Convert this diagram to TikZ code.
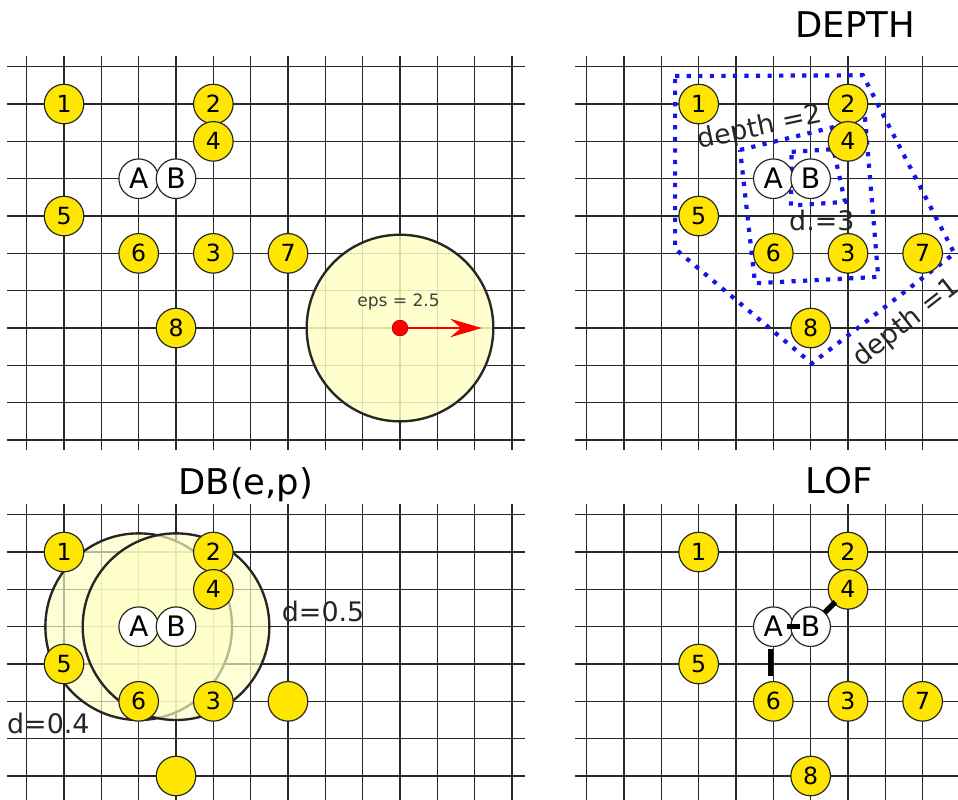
\documentclass[tikz,border=0pt]{standalone}
\usepackage{fontspec}
\setmainfont{DejaVu Sans}
\usetikzlibrary{arrows.meta}

\definecolor{ptyellow}{RGB}{255,230,0}
\definecolor{zonefill}{RGB}{255,255,196}
\definecolor{gridline}{RGB}{40,40,40}
\definecolor{depthblue}{RGB}{20,20,235}

\tikzset{
  gridrule/.style={draw=gridline, line width=1.1pt},
  pt/.style={circle, draw=black!85, line width=0.9pt, fill=ptyellow,
    minimum size=1.06cm, inner sep=0pt, outer sep=0pt,
    font=\fontsize{18}{18}\selectfont},
  query/.style={pt, fill=white, font=\fontsize{21.5}{21.5}\selectfont},
  paneltitle/.style={font=\fontsize{27}{27}\selectfont, anchor=base},
  lbl/.style={font=\fontsize{20.5}{20.5}\selectfont, text=black!85},
  zone/.style={draw=black!85, line width=1.8pt, fill=zonefill, fill opacity=0.85},
  zonepair/.style={draw=black!85, line width=1.8pt, fill=zonefill, fill opacity=0.68},
  depthline/.style={draw=depthblue, line width=3.2pt, dash pattern=on 3.2pt off 5.6pt},
  lofedge/.style={draw=black, line width=4.2pt},
  reddot/.style={circle, fill=red, draw=red!70!black, line width=0.5pt,
    minimum size=0.42cm, inner sep=0pt},
}

% grid block: columns #1..#2, rows #3..#4, left overhang #5
\newcommand\gridblock[5]{%
  \foreach \k in {#1,...,#2} \draw[gridrule] (\k,#3-0.28) -- (\k,#4+0.28);
  \foreach \j in {#3,...,#4} \draw[gridrule] (#1-#5,\j) -- (#2+0.34,\j);
}

% the eight data points and the two query points
\newcommand\pointset[1]{%
  \foreach \n/\x/\y in {1/1/1,2/5/1,4/5/2,5/1/4,6/3/5,3/5/5,7/7/5,8/4/7}
    \node[pt] (#1\n) at (\x,\y) {\n};
  \node[query] (#1A) at (3,3) {A};
  \node[query] (#1B) at (4,3) {B};
}

\begin{document}
\begin{tikzpicture}[x=1cm, y=-1cm]
\useasboundingbox (-0.715,-1.787) rectangle (24.947,19.617);
\clip (-0.715,-1.787) rectangle (24.947,19.617);

% ---------- grids ----------
\gridblock{0}{13}{0}{10}{0.53}
\gridblock{15}{25}{0}{10}{0.31}
\gridblock{0}{13}{12}{19}{0.53}
\gridblock{15}{25}{12}{19}{0.31}
\foreach \k in {0,...,13} \draw[gridrule] (\k,11.74) -- (\k,19.7);
\foreach \k in {15,...,25} \draw[gridrule] (\k,11.74) -- (\k,19.7);

% ---------- top left: eps neighbourhood ----------
\draw[zone] (10,7) circle[radius=2.5cm];
\node[font=\fontsize{13}{13}\selectfont, text=black!75] (epslbl) at (9.96,6.3) {eps = 2.5};
\coordinate (epsend) at (12.19,7);
\node[reddot] (epsc) at (10,7) {};
\draw[red, line width=1.1pt, -{Stealth[length=0.85cm, width=0.5cm, inset=0.3cm]}]
  (epsc) -- (epsend);
\pointset{tl}

% ---------- top right: DEPTH ----------
\node[paneltitle] (tdepth) at (22.19,-0.77) {DEPTH};
\draw[depthline] (17.37,0.25) -- (22.4,0.23) -- (24.85,5.0) -- (21.03,7.95) -- (17.37,4.88) -- cycle;
\draw[depthline] (19.11,2.23) -- (22.46,1.41) -- (22.81,5.63) -- (19.51,5.8) -- cycle;
\draw[depthline] (20.49,2.28) -- (21.61,2.21) -- (21.92,3.62) -- (20.47,3.72) -- cycle;
\begin{scope}[shift={(17,0)}]
  \pointset{tr}
\end{scope}
\node[lbl, rotate=12] (dep2) at (19.64,1.65) {depth =2};
\node[lbl] (dep3) at (21.3,4.12) {d.=3};
\node[lbl, rotate=38] (dep1) at (23.57,6.87) {depth =1};

% ---------- bottom left: DB(e,p) ----------
\node[paneltitle] (tdb) at (5.87,11.46) {DB(e,p)};
\draw[zonepair] (3,15) circle[radius=2.5cm];
\draw[zonepair] (4,15) circle[radius=2.5cm];
\begin{scope}[shift={(0,12)}]
  \foreach \n/\x/\y in {1/1/1,2/5/1,4/5/2,5/1/4,6/3/5,3/5/5}
    \node[pt] (bl\n) at (\x,\y) {\n};
  \node[pt] (bl7) at (7,5) {};
  \node[pt] (bl8) at (4,7) {};
  \node[query] (blA) at (3,3) {A};
  \node[query] (blB) at (4,3) {B};
\end{scope}
\node[lbl] (d05) at (7.94,14.58) {d=0.5};
\node[lbl] (d04) at (0.58,17.58) {d=0.4};

% ---------- bottom right: LOF ----------
\node[paneltitle] (tlof) at (21.76,11.42) {LOF};
\begin{scope}[shift={(17,12)}]
  \pointset{br}
\end{scope}
\draw[lofedge, shorten <=0.37cm, shorten >=0.29cm] (brA.center) -- (brB.center);
\draw[lofedge, shorten >=-0.05cm] (brB) -- (br4);
\draw[lofedge, shorten <=0.06cm, shorten >=0.14cm] ([xshift=-0.08cm]brA.south) -- ([xshift=-0.08cm]br6.north);
\end{tikzpicture}
\end{document}
